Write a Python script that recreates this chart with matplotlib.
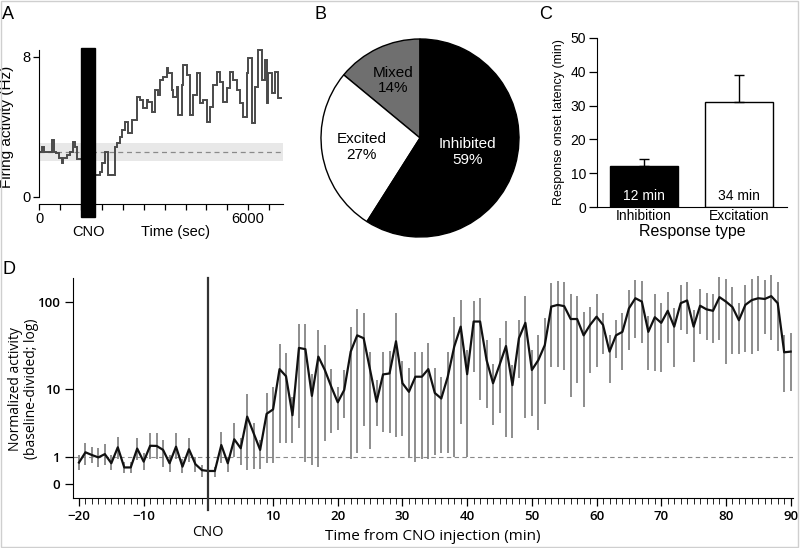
import numpy as np
import matplotlib
matplotlib.use("Agg")
import matplotlib.pyplot as plt
from matplotlib.patches import Rectangle

# ---- panel A: single unit firing (step trace) ----
a_edges = [0, 67, 134, 354, 421, 479, 574, 641, 689, 785, 880, 957, 1024, 1091,
           1608, 1742, 1790, 1885, 1981, 2172, 2220, 2316, 2364, 2459, 2555, 2651,
           2794, 2890, 2986, 3082, 3129, 3225, 3321, 3416, 3464, 3560, 3656, 3704,
           3799, 3847, 3943, 3991, 4086, 4134, 4230, 4326, 4421, 4517, 4613, 4708,
           4804, 4900, 4996, 5091, 5187, 5283, 5378, 5474, 5570, 5665, 5761, 5857,
           5953, 6000, 6096, 6192, 6287, 6383, 6479, 6527, 6575, 6670, 6766, 6862, 6958]
a_rate = [2.57, 2.86, 2.57, 3.24, 2.57, 2.48, 2.19, 1.90, 2.19, 2.38, 2.57, 3.14, 2.86, 2.13,
          1.24, 1.43, 1.90, 2.57, 1.24, 2.86, 3.05, 3.43, 3.81, 4.29, 3.62, 4.38,
          5.71, 5.55, 5.05, 5.52, 5.43, 4.86, 6.10, 5.81, 6.67, 6.86, 7.33, 7.05,
          6.10, 5.71, 6.29, 4.67, 6.38, 7.52, 6.95, 4.67, 5.81, 7.05, 5.33, 5.52,
          4.29, 5.14, 6.38, 7.14, 6.57, 5.43, 6.19, 7.14, 6.67, 6.10, 5.33, 4.57,
          7.05, 7.90, 4.19, 6.29, 8.38, 6.67, 7.81, 5.33, 7.05, 5.90, 7.14, 5.62]
a_baseline = 2.57
a_band = (2.04, 3.05)
a_cno = (1190, 1610)

# ---- panel B: response classes ----
b_labels = ["Mixed", "Excited", "Inhibited"]
b_pct = [14, 27, 59]

# ---- panel C: onset latency ----
c_types = ["Inhibition", "Excitation"]
c_mean = [12.3, 31.0]
c_err = [1.9, 8.0]
c_text = ["12 min", "34 min"]

# ---- panel D: population activity, 1-min bins ----
d_time = np.arange(-20, 91)
d_mean = [0.72, 1.23, 1.08, 0.96, 1.13, 0.69, 1.53, 0.52, 0.52, 1.45, 0.76, 1.63, 1.62, 1.37,
          0.69, 1.57, 0.55, 1.41, 0.65, 0.42, 0.39,
          0.39, 1.68, 0.69, 2.1, 1.47, 4.5, 2.61, 1.37, 4.9, 5.6, 17.3, 14.3, 4.7, 30.3, 29.3,
          8.3, 24.1, 16.9, 10.7, 6.9, 9.8, 27.5,
          42, 39, 16.9, 7.0, 15, 15.4, 36, 11.8, 9.3, 14.1, 14.1, 17.3, 9.0, 7.7, 14.1, 31.3,
          52.6, 15.1, 60, 60, 22, 11.8,
          19.3, 31.8, 11.2, 39, 58, 16.9, 22, 32.6, 88, 92, 89, 64, 64, 42, 55, 68, 55, 27.5,
          42, 46, 84, 109,
          100, 46, 67, 58, 79, 52.6, 96, 103, 52.6, 90, 82, 79, 112, 100, 87, 62, 92, 104,
          109, 107, 115, 96, 27, 27.5]
d_lo = [0.42, 0.62, 0.69, 0.55, 0.62, 0.42, 0.90, 0.31, 0.31, 0.84, 0.42, 0.90, 0.90, 0.55,
        0.36, 0.90, 0.31, 0.76, 0.36, 0.20, 0.20,
        0.2, 0.69, 0.36, 1.0, 0.62, 0.42, 0.45, 0.47, 0.72, 0.72, 1.85, 1.85, 1.8, 3.1, 0.76,
        0.62, 0.55, 1.95, 2.6, 2.9, 4.3, 0.9,
        1.2, 3.3, 1.4, 3.3, 2.7, 2.6, 2.3, 2.4, 1.0, 0.76, 0.9, 0.9, 1.08, 1.2, 1.2, 1.0,
        3.6, 1.0, 15.8, 7.4, 5.8, 3.5,
        5.0, 2.3, 2.2, 13.5, 4.3, 4.6, 2.9, 6.5, 18.5, 18.5, 16.9, 8.1, 11.8, 6.1, 15.4,
        18.5, 26, 11.8, 23, 16.9, 28.7, 39,
        34, 16.9, 16.5, 16, 34, 18.5, 48, 44, 21, 44, 37, 34, 37, 20, 26, 26, 27, 26,
        28, 44, 37, 28, 9.2, 9.5]
d_hi = [1.08, 1.85, 1.57, 1.47, 1.73, 1.08, 2.31, 0.76, 0.76, 2.18, 1.17, 2.67, 2.61, 2.05,
        1.08, 2.67, 0.90, 2.18, 1.00, 0.62, 0.58,
        0.55, 2.7, 1.0, 3.7, 2.18, 8.7, 3.64, 2.05, 8.9, 10.5, 33.6, 26.3, 8.0, 57, 57,
        15.1, 48, 33, 17.3, 10.7, 16.9, 52,
        82, 74, 27.5, 12.9, 27, 28, 75, 21.6, 18, 27.5, 27.5, 34, 18, 14.1, 27.5, 68,
        104, 28.7, 102, 110, 37, 20,
        39, 61, 19.3, 62, 116, 29, 42, 66, 160, 167, 163, 120, 114, 77, 88, 120, 74, 42,
        62, 75, 135, 174,
        167, 70, 120, 97, 129, 86, 153, 163, 81, 138, 124, 120, 186, 177, 147, 96, 153, 180,
        190, 174, 195, 163, 42, 45]
d_ticks = [0, 1, 10, 100]

W, H = 800, 548
ARIAL = "Liberation Sans"
MYRIAD = "Open Sans"


def box(left, top, right, bottom):
    return [left / W, 1 - bottom / H, (right - left) / W, (bottom - top) / H]


fig = plt.figure(figsize=(W / 100, H / 100), dpi=100)
fig.patches.append(Rectangle((0.001, 0.001), 0.997, 0.997, transform=fig.transFigure,
                             fill=False, edgecolor="#cfcfcf", lw=1))

# ---------------- A ----------------
ax = fig.add_axes(box(39.3, 48.8, 283, 204))
ax.axhspan(*a_band, color="#e8e8e8", lw=0, zorder=0)
ax.axhline(a_baseline, color="#8a8a8a", lw=0.9, ls=(0, (4, 3)), zorder=1)
ax.stairs(a_rate, a_edges, color="#4a4a4a", lw=1.4, baseline=None, zorder=2)
ax.add_patch(Rectangle((a_cno[0], -1.14), a_cno[1] - a_cno[0], 9.65, color="black",
                       clip_on=False, zorder=5))
ax.set_xlim(0, 7000)
ax.set_ylim(-0.42, 8.45)
for s in ("top", "right"):
    ax.spines[s].set_visible(False)
ax.spines["left"].set_bounds(0, 8.4)
ax.spines["bottom"].set_bounds(0, 7000)
ax.set_yticks([0, 8])
ax.set_xticks([0, 6000])
ax.set_xticks(np.arange(0, 7000, 600), minor=True)
ax.tick_params(axis="both", labelsize=10.5, length=4, width=0.9, pad=2)
ax.tick_params(axis="x", which="minor", length=4, width=0.9)
for lab in ax.get_xticklabels() + ax.get_yticklabels():
    lab.set_fontfamily(ARIAL)
ax.set_ylabel("Firing activity (Hz)", fontsize=11, family=ARIAL, labelpad=6)
ax.text((a_cno[0] + a_cno[1]) / 2, -2.0, "CNO", ha="center", va="center",
        fontsize=10.5, family=ARIAL)
ax.text(3900, -2.0, "Time (sec)", ha="center", va="center", fontsize=10.5, family=ARIAL)

# ---------------- B ----------------
ax = fig.add_axes(box(320, 38, 520, 238))
wedges, _ = ax.pie(b_pct, colors=["#6f6f6f", "white", "black"], startangle=90,
                   counterclock=True, wedgeprops=dict(edgecolor="black", lw=1))
ax.set_xlim(-1.01, 1.01)
ax.set_ylim(-1.01, 1.01)
ax.set_aspect("equal")
for w, lab, pct, r, col in zip(wedges, b_labels, b_pct, [0.64, 0.6, 0.5],
                               ["black", "black", "white"]):
    ang = np.deg2rad((w.theta1 + w.theta2) / 2)
    ax.text(r * np.cos(ang), r * np.sin(ang), f"{lab}\n{pct}%", ha="center",
            va="center", fontsize=11, color=col, family=ARIAL, linespacing=1.15)

# ---------------- C ----------------
ax = fig.add_axes(box(597.3, 37.7, 786.7, 207.3))
xc = np.arange(len(c_types))
ax.bar(xc, c_mean, width=0.72, color=["black", "white"], edgecolor="black", lw=1)
ax.errorbar(xc, c_mean, yerr=[[0, 0], c_err], fmt="none", ecolor="black", elinewidth=1,
            capsize=3.5, capthick=1)
for x, t, col in zip(xc, c_text, ["white", "black"]):
    ax.text(x, 1.2, t, ha="center", va="bottom", fontsize=10, color=col, family=ARIAL)
ax.set_xlim(-0.49, 1.5)
ax.set_ylim(0, 50)
for s in ("top", "right"):
    ax.spines[s].set_visible(False)
ax.set_yticks(np.arange(0, 51, 10))
ax.set_xticks(xc, c_types)
ax.tick_params(axis="y", labelsize=10, length=6, width=0.9, pad=2)
ax.tick_params(axis="x", labelsize=10, length=0, pad=1)
for lab in ax.get_xticklabels() + ax.get_yticklabels():
    lab.set_fontfamily(ARIAL)
ax.set_ylabel("Response onset latency (min)", fontsize=9, family=ARIAL, labelpad=4)
ax.set_xlabel("Response type", fontsize=11.5, family=ARIAL, labelpad=1)


# ---------------- D ----------------
def fwd(v):
    return np.log10(np.clip(1 + np.asarray(v, float), 1e-6, None))


def inv(t):
    return 10 ** np.asarray(t, float) - 1


ax = fig.add_axes(box(72.5, 274.7, 792.6, 498))
ax.set_yscale("function", functions=(fwd, inv))
mean = np.array(d_mean)
ax.errorbar(d_time, mean, yerr=[mean - np.array(d_lo), np.array(d_hi) - mean], fmt="none",
            ecolor="#7a7a7a", elinewidth=1.2, capsize=0, zorder=2)
ax.plot(d_time, mean, color="#111111", lw=1.6, zorder=3)
ax.axhline(1, color="#8a8a8a", lw=0.8, ls=(0, (4, 3)), zorder=1)
ax.axvline(0, ymin=-0.055, ymax=0.987, color="#333333", lw=1.6, clip_on=False, zorder=4)
ax.set_xlim(-21, 90.3)
ax.set_ylim(inv(-0.154), inv(2.30))
for s in ("top", "right"):
    ax.spines[s].set_visible(False)
ax.spines["left"].set_bounds(inv(-0.154), inv(2.267))
ax.set_yticks(d_ticks, [str(t) for t in d_ticks])
ax.yaxis.set_minor_locator(matplotlib.ticker.NullLocator())
ax.set_xticks([-20, -10, 10, 20, 30, 40, 50, 60, 70, 80, 90])
ax.set_xticks(d_time, minor=True)
ax.tick_params(axis="both", labelsize=9.5, width=0.9, pad=3)
ax.tick_params(axis="y", length=6)
ax.tick_params(axis="x", which="major", length=6)
ax.tick_params(axis="x", which="minor", length=4)
for lab in ax.get_xticklabels() + ax.get_yticklabels():
    lab.set_fontfamily(MYRIAD)
    lab.set_fontweight("semibold")
ax.set_ylabel("Normalized activity\n(baseline-divided; log)", fontsize=10, family=MYRIAD,
              linespacing=1.1)
ax.yaxis.set_label_coords(-0.047, 0.49)
ax.set_xlabel("Time from CNO injection (min)", fontsize=11, family=MYRIAD, labelpad=4)
ax.text(0, inv(-0.53), "CNO", ha="center", va="center", fontsize=10.5, family=MYRIAD)

# panel letters
for letter, x, y in [("A", 2, 6), ("B", 314, 6), ("C", 539, 6), ("D", 2, 261)]:
    fig.text(x / W, 1 - y / H, letter, ha="left", va="top", fontsize=13, family=ARIAL)

fig.savefig("out.png", dpi=100)
